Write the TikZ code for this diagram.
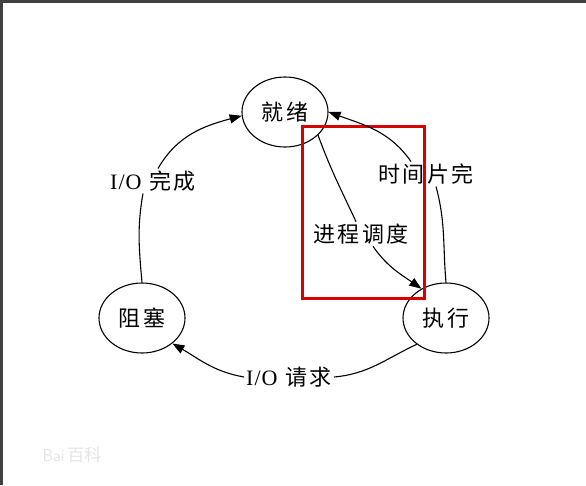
\documentclass[tikz,border=0pt]{standalone}
\usepackage{fontspec}
\setmainfont{Liberation Serif}
\newfontfamily\cjk[LetterSpace=10]{Noto Sans CJK SC}
\newfontfamily\cjkw{Noto Sans CJK SC}
\usetikzlibrary{arrows.meta,shapes.geometric}
\begin{document}
\begin{tikzpicture}[x=1pt,y=1pt,
  state/.style={ellipse,draw,line width=1.1pt,minimum width=86pt,minimum height=70pt,inner sep=0pt,font=\fontsize{22}{22}\selectfont\cjk},
  lbl/.style={inner sep=2pt,font=\fontsize{22}{22}\selectfont},
  conn/.style={line width=1.1pt},
  arr/.style={conn,-{Triangle[length=12pt,width=9pt]}}]
\useasboundingbox (0,0) rectangle (586,-485);
\fill[white] (0,0) rectangle (586,-485);
\fill[black!75] (0,0) rectangle (586,-2.5);
\fill[black!75] (0,0) rectangle (2.5,-485);
% watermark
\node[text=black!10,font=\fontsize{17}{17}\selectfont\sffamily] (wm) at (72,-455) {Bai\,\cjkw 百科};
% states
\node[state] (rdy) at (285,-112) {就绪};
\node[state] (run) at (446,-318) {执行};
\node[state] (blk) at (142,-318) {阻塞};
% labels
\node[lbl] (l1) at (153,-181) {I\kern1pt/\kern1pt O\hspace{8pt}{\cjk 完成}};
\node[lbl] (l2) at (426,-174) {\cjk 时间片完};
\node[lbl] (l3) at (361,-234) {\cjk 进程调度};
\node[lbl] (l4) at (289,-377) {I\kern1pt/\kern1pt O\hspace{8pt}{\cjk 请求}};
% red box
\node[draw=red!85!black,line width=3pt,minimum width=122pt,minimum height=172pt,inner sep=0pt] (box) at (363.5,-212.5) {};
% connectors
\draw[conn] (blk.north) to[out=95,in=-100] ([xshift=-10pt]l1.south);
\draw[arr] ([xshift=5pt]l1.north) to[out=60,in=195] (rdy.185);
\draw[conn] (run.north) to[out=95,in=-75] ([xshift=10pt]l2.south);
\draw[arr] ([xshift=-15pt]l2.north) to[out=125,in=-20] (rdy.east);
\draw[conn] (rdy.-35) to[out=-70,in=115] ([xshift=-5pt]l3.north);
\draw[arr] ([xshift=12pt]l3.south) to[out=-55,in=145] (run.130);
\draw[conn] (run.222) to[out=205,in=5] (l4.east);
\draw[arr] (l4.west) to[out=170,in=-30] (blk.-40);
\end{tikzpicture}
\end{document}
